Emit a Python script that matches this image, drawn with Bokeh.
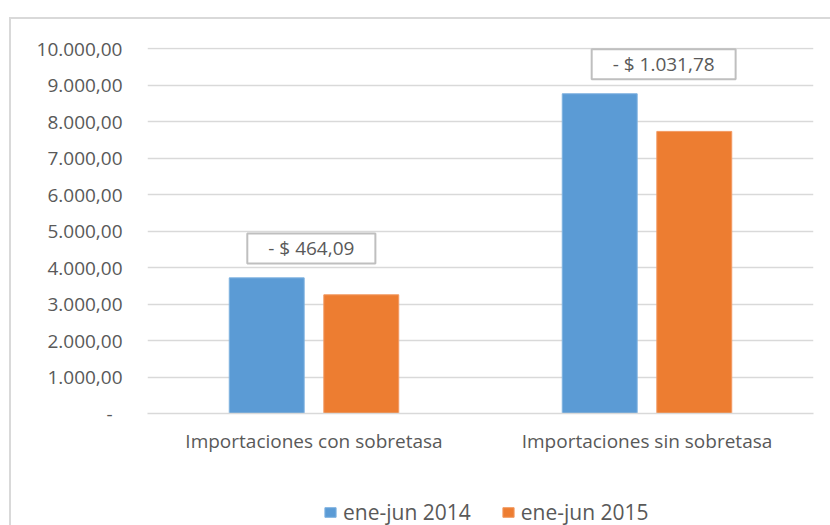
from bokeh.plotting import figure
from bokeh.layouts import column
from bokeh.models import (FactorRange, Range1d, FixedTicker, Legend, LegendItem,
                          ColumnDataSource)
from bokeh.transform import dodge
from bokeh.core.properties import value
from bokeh.embed import file_html
from bokeh.resources import INLINE

# ---- data ----
categories = ["Importaciones con sobretasa", "Importaciones sin sobretasa"]
series_names = ["ene-jun 2014", "ene-jun 2015"]
values_2014 = [3717.0, 8762.0]
values_2015 = [3252.91, 7730.22]
diff_labels = ["- $ 464,09", "- $ 1.031,78"]
y_ticks = [0, 1000, 2000, 3000, 4000, 5000, 6000, 7000, 8000, 9000, 10000]
y_tick_labels = ["-\u00a0\u00a0", "1.000,00", "2.000,00", "3.000,00", "4.000,00",
                 "5.000,00", "6.000,00", "7.000,00", "8.000,00", "9.000,00",
                 "10.000,00"]

FONT = "Open Sans"
TXT = "#595959"
GRID = "#d9d9d9"
BLUE = "#5b9bd5"
ORANGE = "#ed7d31"

p = figure(x_range=FactorRange(*categories), y_range=Range1d(0, 10030),
           width=830, height=470, output_backend="svg", toolbar_location=None,
           min_border_left=147, min_border_right=17, min_border_top=47,
           min_border_bottom=57)
p.outline_line_color = None
p.background_fill_color = "white"
p.border_fill_alpha = 0
p.styles = {
    "background": ("linear-gradient(#d9d9d9,#d9d9d9) 9px 17px / 2px 100% no-repeat, "
                   "linear-gradient(#d9d9d9,#d9d9d9) 9px 17px / 100% 2px no-repeat, "
                   "white")
}

# grid
p.xgrid.grid_line_color = None
p.ygrid.ticker = FixedTicker(ticks=y_ticks)
p.ygrid.grid_line_color = GRID
p.ygrid.grid_line_width = 1.5

# y axis
p.yaxis.ticker = FixedTicker(ticks=y_ticks)
p.yaxis.major_label_overrides = {t: l for t, l in zip(y_ticks, y_tick_labels)}
p.yaxis.axis_line_color = None
p.yaxis.major_tick_line_color = None
p.yaxis.minor_tick_line_color = None
p.yaxis.major_tick_out = 0
p.yaxis.major_tick_in = 0
p.yaxis.minor_tick_out = 0
p.yaxis.major_label_standoff = 25
p.yaxis.major_label_text_font = FONT
p.yaxis.major_label_text_font_size = "19px"
p.yaxis.major_label_text_color = TXT

# x axis
p.xaxis.axis_line_color = GRID
p.xaxis.axis_line_width = 1.5
p.xaxis.major_tick_line_color = None
p.xaxis.minor_tick_line_color = None
p.xaxis.major_tick_out = 0
p.xaxis.major_tick_in = 0
p.xaxis.major_label_standoff = 14
p.xaxis.major_label_text_font = FONT
p.xaxis.major_label_text_font_size = "19px"
p.xaxis.major_label_text_color = TXT

src = ColumnDataSource(dict(cat=categories, v14=values_2014, v15=values_2015))
p.vbar(x=dodge("cat", -0.142, range=p.x_range), top="v14", width=0.225,
       source=src, fill_color=BLUE, line_color="#7fb2e0", line_width=1)
p.vbar(x=dodge("cat", 0.142, range=p.x_range), top="v15", width=0.225,
       source=src, fill_color=ORANGE, line_color="#f29a62", line_width=1)

# difference labels (boxed)
label_offsets = [-0.008, 0.05]
for i in range(len(categories)):
    ls = ColumnDataSource(dict(cat=[categories[i]],
                               ly=[max(values_2014[i], values_2015[i]) + 808],
                               txt=[diff_labels[i]]))
    p.text(x=dodge("cat", label_offsets[i], range=p.x_range), y="ly", text="txt",
           source=ls, text_font=value(FONT), text_font_size="19px",
           text_color=TXT, text_align="center", text_baseline="middle",
           padding=dict(left=21, right=21, top=2, bottom=2),
           border_line_color="#bfbfbf", border_line_width=2,
           background_fill_color="white")

# ---- legend strip (second figure below the chart) ----
lf = figure(width=830, height=55, output_backend="svg", toolbar_location=None,
            x_range=Range1d(0, 1), y_range=Range1d(0, 1),
            x_axis_type=None, y_axis_type=None,
            min_border_left=0, min_border_right=0, min_border_top=0,
            min_border_bottom=0)
lf.grid.visible = False
lf.outline_line_color = None
lf.background_fill_alpha = 0
lf.border_fill_alpha = 0
lf.styles = {
    "background": ("linear-gradient(#d9d9d9,#d9d9d9) 9px 0px / 2px 100% no-repeat, "
                   "white")
}
# stand-in renderers (outside the visible range) that only supply legend swatches
e1 = lf.vbar(x=[-5], top=[-5], width=0.1, fill_color=BLUE, line_color="#7fb2e0")
e2 = lf.vbar(x=[-5], top=[-5], width=0.1, fill_color=ORANGE, line_color="#f29a62")
legend = Legend(items=[LegendItem(label=series_names[0], renderers=[e1]),
                       LegendItem(label=series_names[1], renderers=[e2])],
                location=(176, -1), orientation="horizontal",
                glyph_width=14, glyph_height=12, label_standoff=6, spacing=30,
                padding=0, margin=0, border_line_color=None,
                background_fill_alpha=0,
                label_text_font=FONT, label_text_font_size="21px",
                label_text_color=TXT)
lf.add_layout(legend)

layout = column(p, lf, spacing=0)
open("out.html", "w").write(file_html(layout, INLINE))
